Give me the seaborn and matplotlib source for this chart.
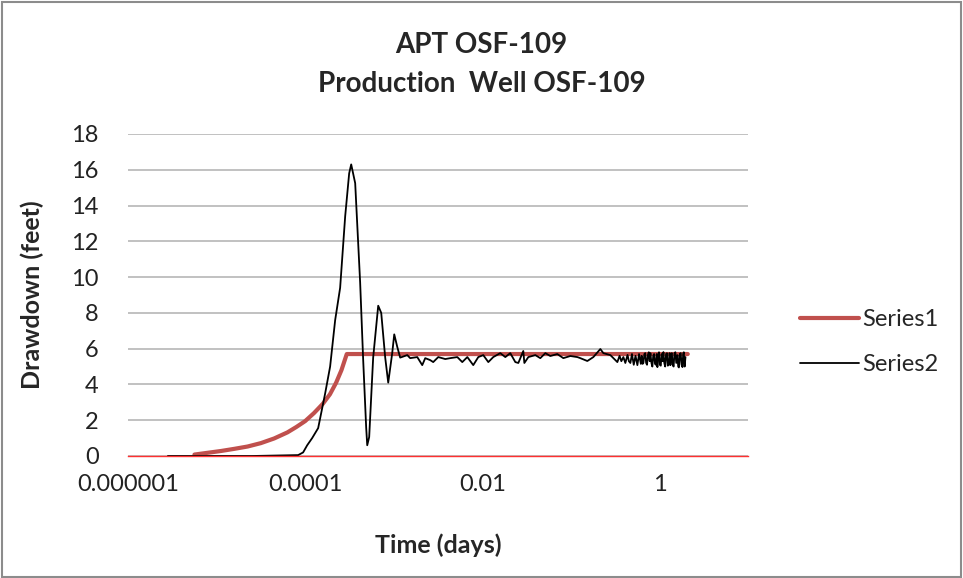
import numpy as np
import pandas as pd
import matplotlib
matplotlib.use('Agg')
import matplotlib.pyplot as plt
import seaborn as sns
from matplotlib.patches import Rectangle

# Series1 - smooth drawdown curve (log10 of time in days, drawdown in feet)
s1_logt = [-5.25, -5.1, -4.95, -4.8, -4.65, -4.5, -4.35, -4.2, -4.1, -4.0,
           -3.9, -3.8, -3.72, -3.65, -3.59, -3.53, -1.0, 0.32]
s1_dd = [0.08, 0.18, 0.28, 0.40, 0.53, 0.72, 0.98, 1.32, 1.62, 1.95,
         2.40, 2.92, 3.45, 4.1, 4.8, 5.7, 5.7, 5.7]

# Series2 - measured drawdown
s2_logt = [-5.55, -4.6, -4.079, -4.023, -3.977, -3.921, -3.853, -3.774, -3.718,
           -3.661, -3.605, -3.548, -3.503, -3.48, -3.435, -3.412, -3.379,
           -3.345, -3.311, -3.299, -3.277, -3.232, -3.186, -3.175, -3.141,
           -3.096, -3.062, -3.017, -2.994, -2.96, -2.927,
           -2.847, -2.814, -2.734, -2.678, -2.644, -2.588, -2.554, -2.497,
           -2.418, -2.362, -2.282, -2.226, -2.169, -2.102, -2.045, -1.989,
           -1.932, -1.876, -1.797, -1.74, -1.684, -1.627, -1.593, -1.537,
           -1.525, -1.48, -1.401, -1.345, -1.288, -1.232, -1.153, -1.085,
           -1.006, -0.927, -0.893, -0.814, -0.746, -0.667, -0.633, -0.554,
           -0.475, -0.45, -0.43, -0.407, -0.385, -0.36, -0.345, -0.328, -0.31,
           -0.29, -0.27, -0.249, -0.23, -0.21,
           -0.2, -0.19, -0.181, -0.17, -0.16, -0.15, -0.14, -0.13, -0.12,
           -0.11, -0.102, -0.09, -0.08, -0.07, -0.06, -0.05, -0.04, -0.03,
           -0.023, -0.015, -0.005, 0.005, 0.015, 0.025, 0.035, 0.045, 0.055,
           0.065, 0.075, 0.085, 0.095, 0.105, 0.115, 0.124, 0.132, 0.14, 0.15,
           0.16, 0.17, 0.18, 0.19, 0.203, 0.212, 0.22, 0.23, 0.24, 0.25, 0.26,
           0.268, 0.275, 0.285, 0.294]
s2_dd = [0.0, 0.0, 0.05, 0.2, 0.6, 1.0, 1.56, 3.5, 5.0,
         7.6, 9.4, 13.4, 15.8, 16.3, 15.25, 13.0, 9.7,
         5.4, 1.6, 0.6, 1.06, 5.5, 7.8, 8.4, 8.0,
         5.5, 4.1, 5.75, 6.8, 6.1, 5.5,
         5.64, 5.47, 5.53, 5.08, 5.47, 5.36, 5.25, 5.53,
         5.42, 5.47, 5.53, 5.25, 5.53, 5.08, 5.53, 5.64,
         5.25, 5.53, 5.75, 5.53, 5.75, 5.25, 5.2, 5.87,
         5.2, 5.53, 5.64, 5.47, 5.75, 5.59, 5.7, 5.47,
         5.59, 5.53, 5.47, 5.31, 5.53, 5.98, 5.75, 5.64,
         5.25, 5.6, 5.3, 5.53, 5.2, 5.65, 5.3, 5.2, 5.7,
         5.1, 5.6, 5.08, 5.7, 5.15,
         5.6, 5.15, 5.2, 5.7, 5.75, 5.2, 5.1, 5.65, 5.8,
         5.3, 5.75, 5.2, 5.0, 5.6, 5.7, 5.15, 5.1, 5.7,
         4.97, 5.6, 5.8, 5.1, 5.05, 5.7, 5.3, 5.81, 5.2,
         5.0, 5.7, 5.75, 5.05, 5.1, 5.75, 5.08, 5.7, 5.75, 5.1,
         5.0, 5.75, 5.8, 5.2, 5.64, 5.0, 4.95, 5.7, 5.75, 5.1, 4.97,
         5.7, 5.8, 5.0, 5.53]

x_ticks = [1e-6, 1e-4, 1e-2, 1]
x_tick_labels = ['0.000001', '0.0001', '0.01', '1']
y_ticks = list(range(0, 20, 2))

df1 = pd.DataFrame({'Time': 10 ** np.array(s1_logt), 'Drawdown': s1_dd})
df2 = pd.DataFrame({'Time': 10 ** np.array(s2_logt), 'Drawdown': s2_dd})

sns.set_theme(style='white')
plt.rcParams['font.family'] = ['Lato', 'DejaVu Sans']

fig = plt.figure(figsize=(9.63, 5.78), dpi=100)
ax = fig.add_axes([128 / 963, 1 - 456 / 578, 620 / 963, 322 / 578])

sns.lineplot(data=df1, x='Time', y='Drawdown', ax=ax, color='#C0504D',
             linewidth=3.0, label='Series1', sort=False)
sns.lineplot(data=df2, x='Time', y='Drawdown', ax=ax, color='black',
             linewidth=1.3, label='Series2', sort=False)

ax.set_xscale('log')
ax.set_xlim(1e-6, 10)
ax.set_ylim(0, 18)
ax.set_xticks(x_ticks)
ax.set_xticklabels(x_tick_labels)
ax.minorticks_off()
ax.set_yticks(y_ticks)
ax.tick_params(axis='both', length=0, labelsize=17, colors='#222222')
ax.tick_params(axis='y', pad=21)
ax.tick_params(axis='x', pad=13)
ax.yaxis.grid(True, color='#B0B0B0', linewidth=1.1)
ax.set_axisbelow(True)
for s in ['left', 'right', 'top']:
    ax.spines[s].set_visible(False)
ax.spines['bottom'].set_color('#FF3030')
ax.spines['bottom'].set_linewidth(1.0)

ax.set_xlabel('Time (days)', fontsize=18, fontweight='bold')
ax.set_ylabel('Drawdown (feet)', fontsize=18, fontweight='bold')
ax.xaxis.set_label_coords(0.5, -0.239)
ax.yaxis.set_label_coords(-0.135, 0.5)

fig.text(0.5, 1 - 45 / 578, 'APT OSF-109', ha='center', va='center',
         fontsize=20, fontweight='bold')
fig.text(0.5, 1 - 84 / 578, 'Production  Well OSF-109', ha='center',
         va='center', fontsize=20, fontweight='bold')

leg = ax.legend(loc='center left', bbox_to_anchor=(1.084, 0.354),
                frameon=False, fontsize=17, handlelength=2.5,
                handletextpad=0.15, borderpad=0, borderaxespad=0,
                labelspacing=1.0)

fig.patches.append(Rectangle((0.002, 0.002), 0.996, 0.994,
                             transform=fig.transFigure, fill=False,
                             edgecolor='#8C8C8C', linewidth=1.5))

fig.savefig('out.png', dpi=100)
